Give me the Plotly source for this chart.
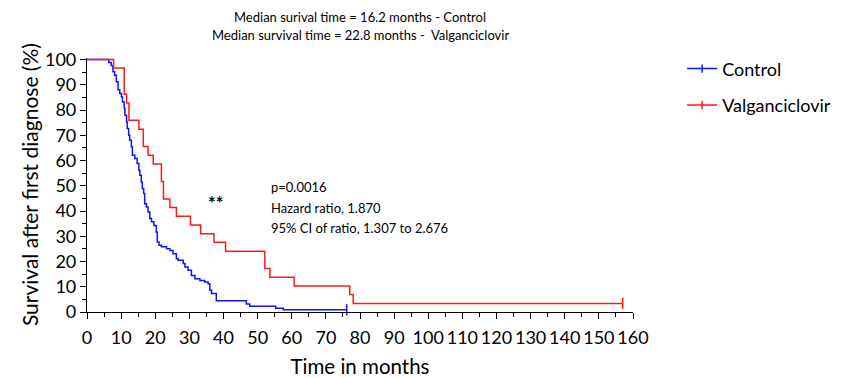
import plotly.graph_objects as go

# Kaplan-Meier step data (time in months, survival %)
control_t = [0, 6.4, 7.1, 7.6, 8.1, 8.6, 9.1, 9.6, 10.1, 10.4, 10.9, 11.1, 11.6, 11.8, 12.2, 12.5,
             13.0, 13.3, 14.0, 14.7, 15.2, 15.5, 15.9, 16.2, 16.6, 16.9, 17.4, 17.9, 18.4, 18.9,
             19.6, 20.3, 20.6, 21.1, 21.8, 23.3, 24.3, 25.2, 26.2, 26.7, 28.2, 28.7, 29.6, 30.6,
             31.6, 33.1, 34.5, 35.5, 36.0, 36.5, 37.9, 46.7, 47.7, 55.3, 57.5, 76.1]
control_s = [100, 98.8, 97.6, 95.2, 93.8, 91.2, 88.0, 86.5, 85.2, 83.2, 80.6, 77.9, 75.3, 72.7, 70.0, 68.0,
             65.4, 62.1, 60.8, 58.8, 56.1, 54.2, 51.5, 48.9, 46.9, 42.9, 41.6, 39.6, 37.0, 35.7,
             34.3, 31.7, 27.7, 26.4, 25.8, 25.1, 24.4, 23.1, 21.1, 20.5, 19.2, 17.8, 16.5, 14.5,
             13.2, 12.5, 11.9, 11.2, 8.6, 7.3, 4.5, 3.2, 2.3, 1.5, 0.9, 0.9]

valgan_t = [0, 7.8, 10.9, 11.6, 12.3, 15.2, 16.5, 17.9, 19.4, 21.8, 22.4, 24.3, 26.2, 30.3, 33.3,
            37.2, 40.6, 52.1, 53.6, 60.7, 77.0, 78.0, 157.0]
valgan_s = [100, 96.6, 86.2, 82.8, 75.9, 72.4, 65.5, 62.1, 58.6, 51.7, 44.8, 41.4, 37.9, 34.5, 31.0,
            27.6, 24.1, 17.2, 13.8, 10.3, 6.9, 3.4, 3.4]

x_ticks = list(range(0, 161, 10))
y_ticks = list(range(0, 101, 10))

BLUE = "#0a14ff"
RED = "#ff1a1a"
FONT = "Lato"

fig = go.Figure()

fig.add_trace(go.Scatter(x=control_t, y=control_s, mode="lines", line=dict(color=BLUE, width=1.5, shape="hv"),
                         showlegend=False))
fig.add_trace(go.Scatter(x=valgan_t, y=valgan_s, mode="lines", line=dict(color=RED, width=1.5, shape="hv"),
                         showlegend=False))
# censor ticks at last observation
fig.add_trace(go.Scatter(x=[control_t[-1]], y=[control_s[-1]], mode="markers",
                         marker=dict(symbol="line-ns-open", size=8, color=BLUE, line=dict(color=BLUE, width=1.5)),
                         showlegend=False, cliponaxis=False))
fig.add_trace(go.Scatter(x=[valgan_t[-1]], y=[valgan_s[-1]], mode="markers",
                         marker=dict(symbol="line-ns-open", size=8, color=RED, line=dict(color=RED, width=1.5)),
                         showlegend=False, cliponaxis=False))

# legend entries
fig.add_trace(go.Scatter(x=[None], y=[None], mode="lines+markers", name="Control", legendgroup="c",
                         line=dict(color=BLUE, width=1.5),
                         marker=dict(symbol="line-ns-open", size=6, color=BLUE, line=dict(color=BLUE, width=1.5))))
fig.add_trace(go.Scatter(x=[None], y=[None], mode="lines+markers", name="Valganciclovir", legendgroup="v",
                         line=dict(color=RED, width=1.5),
                         marker=dict(symbol="line-ns-open", size=6, color=RED, line=dict(color=RED, width=1.5))))

# page body has an 8px margin; compensate
OFF = 8
W, H = 857 - OFF, 378 - OFF
L, R = 87.3 - OFF, 632.7 - OFF
T, B = 57.8 - OFF, 311.7 - OFF

fig.update_layout(
    width=W, height=H,
    margin=dict(l=L, r=W - R, t=T, b=H - B, pad=0, autoexpand=False),
    paper_bgcolor="white", plot_bgcolor="white",
    font=dict(family=FONT, color="black"),
    legend=dict(x=1.09, y=1.03, xanchor="left", yanchor="top", font=dict(size=18, family=FONT),
                tracegroupgap=10, bgcolor="rgba(0,0,0,0)"),
    xaxis=dict(range=[0, 160], tickmode="array", tickvals=x_ticks, ticktext=[str(v) for v in x_ticks],
               ticks="outside", ticklen=6, tickwidth=1.2, tickcolor="black", ticklabelstandoff=3,
               minor=dict(dtick=5, ticks="outside", ticklen=4, tickwidth=1.2, tickcolor="black"),
               showline=True, linecolor="black", linewidth=1.2, showgrid=False, zeroline=False,
               tickfont=dict(size=18, family=FONT), automargin=False,
               title=dict(text="Time in months", font=dict(size=20.5, family=FONT), standoff=13)),
    yaxis=dict(range=[0, 100.6], tickmode="array", tickvals=y_ticks, ticktext=[str(v) for v in y_ticks],
               ticks="outside", ticklen=6, tickwidth=1.2, tickcolor="black",
               minor=dict(tickvals=list(range(5, 100, 10)), ticks="outside", ticklen=4, tickwidth=1.2, tickcolor="black"),
               showline=True, linecolor="black", linewidth=1.2, showgrid=False, zeroline=False,
               tickfont=dict(size=18, family=FONT), automargin=False),
)

fig.add_annotation(text="Survival after first diagnose (%)", xref="paper", yref="paper", x=-0.106, y=0.5,
                   textangle=-90, showarrow=False, font=dict(size=21, family=FONT),
                   xanchor="center", yanchor="middle")

fig.add_annotation(text="Median surival time = 16.2 months - Control", xref="paper", yref="paper",
                   x=0.5, y=1.16, showarrow=False, font=dict(size=13, family=FONT), yanchor="middle")
fig.add_annotation(text="Median survival time = 22.8 months -  Valganciclovir", xref="paper", yref="paper",
                   x=0.5, y=1.09, showarrow=False, font=dict(size=13, family=FONT), yanchor="middle")

fig.add_annotation(text="<b>**</b>", x=37.7, y=43.0, showarrow=False, font=dict(size=18, family=FONT))
fig.add_annotation(text="p=0.0016", x=53.3, y=49.4, xanchor="left", showarrow=False, font=dict(size=13, family=FONT))
fig.add_annotation(text="Hazard ratio, 1.870", x=53.3, y=41.1, xanchor="left", showarrow=False, font=dict(size=13, family=FONT))
fig.add_annotation(text="95% CI of ratio, 1.307 to 2.676", x=53.3, y=33.2, xanchor="left", showarrow=False,
                   font=dict(size=13, family=FONT))

fig.write_html("out.html")
